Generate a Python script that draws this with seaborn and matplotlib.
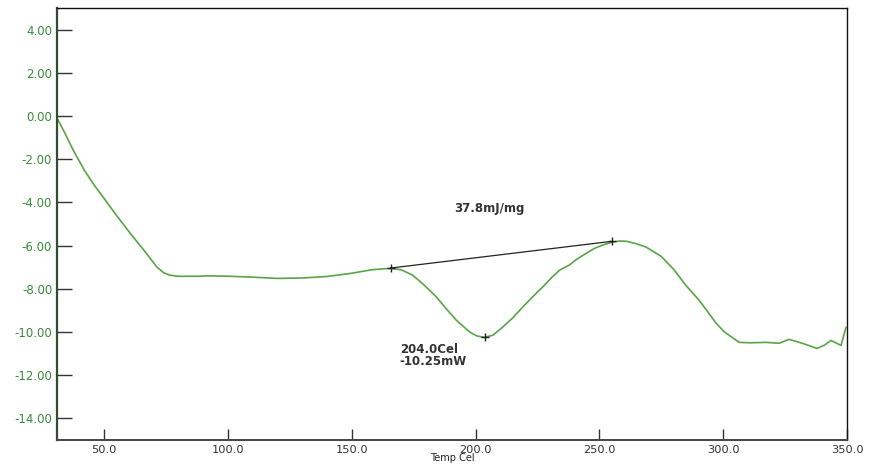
import numpy as np
import pandas as pd
import matplotlib
matplotlib.use("Agg")
import matplotlib.pyplot as plt
import seaborn as sns

# DSC curve
temp = [31.0, 34.0, 37.5, 42.0, 46.0, 49.6, 55.0, 60.5, 66.0, 71.4, 74.0, 76.6, 80.0,
        87.5, 92.0, 100.8, 110.0, 120.0, 130.0, 140.0, 150.0, 158.0, 165.7,
        170.0, 174.6, 179.0, 184.3, 188.0, 192.3, 197.6, 200.5, 203.6, 207.0,
        210.9, 215.0, 219.0, 223.0, 227.0, 231.0, 233.9, 237.9, 241.0, 244.8,
        248.0, 251.2, 255.2, 258.0, 260.9, 264.5, 268.9, 275.0, 280.0, 285.0,
        290.3, 294.0, 297.2, 300.5, 303.6, 306.5, 311.0, 317.3, 322.6, 326.6,
        331.9, 337.9, 341.0, 343.5, 347.6, 349.6]
heat_flow = [-0.1, -0.75, -1.57, -2.5, -3.2, -3.75, -4.6, -5.42, -6.2, -7.0, -7.25, -7.37, -7.42,
             -7.42, -7.4, -7.42, -7.46, -7.52, -7.5, -7.43, -7.28, -7.12, -7.05,
             -7.12, -7.37, -7.8, -8.39, -8.9, -9.46, -10.0, -10.18, -10.25, -10.15,
             -9.78, -9.35, -8.85, -8.38, -7.93, -7.45, -7.14, -6.9, -6.62, -6.35,
             -6.13, -5.98, -5.84, -5.79, -5.8, -5.9, -6.07, -6.5, -7.1, -7.85,
             -8.53, -9.1, -9.6, -10.0, -10.25, -10.48, -10.5, -10.48, -10.52, -10.34,
             -10.52, -10.76, -10.6, -10.39, -10.62, -9.78]

# analysis points (onset/endset of integration, peak)
base_temp = [165.7, 255.2]
base_flow = [-7.04, -5.8]
peak_temp = [204.0]
peak_flow = [-10.25]

x_ticks = [50.0, 100.0, 150.0, 200.0, 250.0, 300.0, 350.0]
y_ticks = [4.0, 2.0, 0.0, -2.0, -4.0, -6.0, -8.0, -10.0, -12.0, -14.0]

sns.set_style("white")
plt.rcParams['font.family'] = ['DejaVu Sans']

fig = plt.figure(figsize=(8.69, 4.66), dpi=100)
ax = fig.add_axes([57 / 869, 1 - 440 / 466, 790 / 869, 432 / 466])

df = pd.DataFrame({"Temp": temp, "Flow": heat_flow})
sns.lineplot(data=df, x="Temp", y="Flow", ax=ax, color="#5aa347", linewidth=1.2)

# baseline used for the enthalpy integration
sns.lineplot(x=base_temp, y=base_flow, ax=ax, color="#222222", linewidth=0.9)
ax.plot(base_temp, base_flow, linestyle="none", marker="+", color="#222222",
        markersize=6, markeredgewidth=1.0)
ax.plot(peak_temp, peak_flow, linestyle="none", marker="+", color="#222222",
        markersize=6, markeredgewidth=1.0)

ax.text(205.5, -4.26, "37.8mJ/mg", ha="center", va="center", fontsize=8.5,
        fontweight="bold", color="#333333")
ax.text(169.4, -10.5, "204.0Cel\n-10.25mW", ha="left", va="top", fontsize=8.5,
        fontweight="bold", color="#333333", linespacing=0.95)

ax.set_xlim(31, 350)
ax.set_ylim(-15, 5)
ax.set_xticks(x_ticks)
ax.set_xticklabels([f"{v:.1f}" for v in x_ticks], fontsize=8.2)
ax.set_yticks(y_ticks)
ax.set_yticklabels([f"{v:.2f}" for v in y_ticks], fontsize=8.5)
ax.tick_params(axis="x", direction="in", length=8, width=1.0, colors="#333333", bottom=True)
ax.tick_params(axis="y", direction="in", length=11, width=1.0, colors="#333333", left=True)
for lab in ax.get_yticklabels():
    lab.set_color("#3a8a3a")
for lab in ax.get_xticklabels():
    lab.set_color("#333333")
ax.set_xlabel("Temp Cel", fontsize=7, color="#222222", labelpad=-1)
ax.set_ylabel("")

ax.spines["left"].set_color("#2f4f2f")
ax.spines["left"].set_linewidth(1.6)
ax.spines["bottom"].set_color("#444444")
ax.spines["bottom"].set_linewidth(1.4)
ax.spines["top"].set_color("#111111")
ax.spines["top"].set_linewidth(1.0)
ax.spines["right"].set_color("#111111")
ax.spines["right"].set_linewidth(1.0)

fig.savefig("out.png", dpi=100)
